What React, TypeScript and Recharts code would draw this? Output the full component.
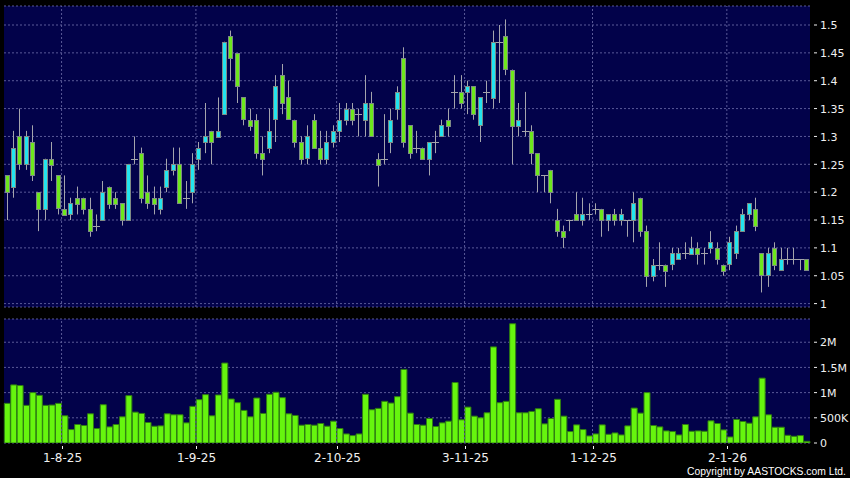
import React from 'react';
import { ComposedChart, BarChart, Bar, XAxis, YAxis, CartesianGrid, ReferenceLine } from 'recharts';

const dates = [
  '21-7-25','22-7-25','23-7-25','24-7-25','25-7-25','28-7-25','29-7-25','30-7-25','31-7-25',
  '1-8-25','4-8-25','5-8-25','6-8-25','7-8-25','8-8-25','11-8-25','12-8-25','13-8-25','14-8-25','15-8-25','18-8-25','19-8-25','20-8-25','21-8-25','22-8-25','25-8-25','26-8-25','27-8-25','28-8-25','29-8-25',
  '1-9-25','2-9-25','3-9-25','4-9-25','5-9-25','8-9-25','9-9-25','10-9-25','11-9-25','12-9-25','15-9-25','16-9-25','17-9-25','18-9-25','19-9-25','22-9-25','23-9-25','24-9-25','25-9-25','26-9-25','29-9-25','30-9-25',
  '2-10-25','3-10-25','6-10-25','8-10-25','9-10-25','10-10-25','13-10-25','14-10-25','15-10-25','16-10-25','17-10-25','20-10-25','21-10-25','22-10-25','23-10-25','24-10-25','27-10-25','28-10-25','30-10-25','31-10-25',
  '3-11-25','4-11-25','5-11-25','6-11-25','7-11-25','10-11-25','11-11-25','12-11-25','13-11-25','14-11-25','17-11-25','18-11-25','19-11-25','20-11-25','21-11-25','24-11-25','25-11-25','26-11-25','27-11-25','28-11-25',
  '1-12-25','2-12-25','3-12-25','4-12-25','5-12-25','8-12-25','9-12-25','10-12-25','11-12-25','12-12-25','15-12-25','16-12-25','17-12-25','18-12-25','19-12-25','22-12-25','23-12-25','24-12-25','29-12-25','30-12-25','31-12-25',
  '2-1-26','5-1-26','6-1-26','7-1-26','8-1-26','9-1-26','12-1-26','13-1-26','14-1-26','15-1-26','16-1-26','19-1-26','20-1-26'
];

const opens = [
  1.23,1.21,1.30,1.25,1.29,1.20,1.17,1.26,1.23,1.17,1.16,1.19,1.19,1.17,1.14,1.15,1.21,1.19,1.18,1.15,
  1.26,1.27,1.20,1.19,1.17,1.21,1.24,1.25,1.19,1.20,1.26,1.29,1.31,1.30,1.34,1.48,1.45,1.37,1.33,1.33,
  1.27,1.28,1.33,1.41,1.37,1.33,1.29,1.26,1.33,1.28,1.26,1.29,1.31,1.33,1.35,1.34,1.33,1.36,1.26,1.26,
  1.29,1.35,1.44,1.32,1.28,1.28,1.26,1.29,1.30,1.33,1.38,1.38,1.38,1.39,1.32,1.38,1.37,1.47,1.48,1.42,
  1.32,1.31,1.31,1.27,1.23,1.24,1.15,1.13,1.15,1.16,1.15,1.16,1.17,1.17,1.15,1.16,1.15,1.15,1.15,1.19,
  1.13,1.05,1.07,1.07,1.07,1.08,1.09,1.09,1.10,1.09,1.10,1.10,1.07,1.07,1.09,1.13,1.16,1.17,1.09,1.05,
  1.10,1.06,1.08,1.08,1.08,1.08
];
const highs = [
  1.23,1.31,1.35,1.31,1.32,1.20,1.26,1.29,1.23,1.23,1.19,1.21,1.19,1.19,1.16,1.22,1.21,1.20,1.18,1.25,
  1.30,1.28,1.23,1.21,1.21,1.26,1.28,1.28,1.22,1.27,1.29,1.36,1.31,1.37,1.47,1.49,1.45,1.37,1.35,1.34,
  1.30,1.35,1.41,1.43,1.40,1.33,1.30,1.32,1.34,1.31,1.31,1.32,1.36,1.36,1.36,1.35,1.41,1.38,1.27,1.34,
  1.35,1.39,1.46,1.32,1.31,1.28,1.29,1.31,1.33,1.35,1.41,1.41,1.40,1.39,1.37,1.40,1.49,1.50,1.51,1.42,
  1.36,1.38,1.32,1.27,1.23,1.24,1.17,1.14,1.15,1.20,1.19,1.18,1.18,1.17,1.16,1.17,1.17,1.15,1.20,1.19,
  1.14,1.08,1.11,1.07,1.10,1.10,1.11,1.12,1.11,1.10,1.13,1.11,1.07,1.12,1.14,1.17,1.18,1.19,1.09,1.10,
  1.11,1.10,1.10,1.10,1.08,1.08
];
const lows = [
  1.15,1.19,1.24,1.24,1.22,1.13,1.15,1.22,1.16,1.16,1.15,1.16,1.16,1.12,1.13,1.15,1.17,1.17,1.14,1.15,
  1.25,1.18,1.17,1.16,1.16,1.20,1.23,1.18,1.17,1.18,1.24,1.27,1.25,1.30,1.34,1.40,1.36,1.32,1.31,1.26,
  1.23,1.27,1.29,1.34,1.33,1.28,1.25,1.25,1.28,1.25,1.25,1.28,1.29,1.32,1.32,1.30,1.30,1.30,1.21,1.25,
  1.27,1.33,1.28,1.26,1.27,1.26,1.23,1.27,1.30,1.30,1.35,1.35,1.34,1.33,1.29,1.36,1.35,1.36,1.41,1.25,
  1.30,1.30,1.25,1.20,1.20,1.18,1.12,1.10,1.13,1.15,1.14,1.15,1.16,1.12,1.13,1.14,1.14,1.12,1.11,1.12,
  1.03,1.04,1.06,1.03,1.06,1.08,1.08,1.09,1.07,1.07,1.09,1.07,1.05,1.06,1.08,1.13,1.15,1.13,1.02,1.03,
  1.06,1.06,1.07,1.07,1.06,1.06
];
const closes = [
  1.20,1.28,1.25,1.30,1.23,1.17,1.26,1.25,1.17,1.16,1.18,1.18,1.17,1.13,1.14,1.20,1.18,1.18,1.15,1.25,
  1.26,1.19,1.18,1.18,1.19,1.24,1.25,1.18,1.19,1.25,1.28,1.30,1.29,1.31,1.47,1.44,1.39,1.33,1.32,1.27,
  1.26,1.31,1.39,1.36,1.33,1.29,1.26,1.30,1.28,1.26,1.29,1.31,1.33,1.35,1.33,1.34,1.36,1.30,1.25,1.26,
  1.33,1.38,1.29,1.27,1.28,1.26,1.29,1.29,1.32,1.32,1.38,1.36,1.39,1.34,1.37,1.38,1.47,1.47,1.42,1.32,
  1.33,1.31,1.27,1.23,1.23,1.20,1.13,1.12,1.15,1.15,1.16,1.16,1.17,1.15,1.16,1.15,1.16,1.15,1.18,1.13,
  1.05,1.07,1.07,1.06,1.09,1.09,1.09,1.10,1.09,1.09,1.11,1.08,1.06,1.11,1.13,1.16,1.18,1.14,1.05,1.09,
  1.07,1.08,1.08,1.08,1.08,1.06
];
// volume in thousands of shares
const volumesK = [
  787,1153,1140,747,1000,947,747,753,787,540,267,367,347,580,287,760,320,367,520,940,
  613,587,407,333,340,580,560,560,400,727,860,960,540,953,1587,873,800,647,520,893,
  587,967,1007,900,580,547,353,367,353,387,333,433,287,180,147,180,967,660,687,827,
  793,920,1460,593,367,353,487,327,400,433,1200,460,713,533,500,600,1907,800,827,2367,
  600,600,627,680,380,487,867,533,227,360,267,140,180,360,173,200,160,340,693,593,
  1000,347,320,240,227,160,367,233,240,233,440,387,260,120,467,427,393,520,1287,560,
  313,313,153,133,147,33
];

const monthStarts = ['1-8-25', '1-9-25', '2-10-25', '3-11-25', '1-12-25', '2-1-26'];
const priceTicks = [1, 1.05, 1.1, 1.15, 1.2, 1.25, 1.3, 1.35, 1.4, 1.45, 1.5];
const priceTickLabels = ['1', '1.05', '1.1', '1.15', '1.2', '1.25', '1.3', '1.35', '1.4', '1.45', '1.5'];
const volTicks = [0, 500, 1000, 1500, 2000];
const volTickLabels = ['0', '500K', '1M', '1.5M', '2M'];

const data = dates.map((d, i) => ({
  date: d,
  open: opens[i],
  high: highs[i],
  low: lows[i],
  close: closes[i],
  range: [lows[i], highs[i]],
  vol: volumesK[i],
}));

const BG = '#02024a';
const GRID = '#5a5a98';
const CYAN = '#22e4ef';
const GREEN = '#6de81c';
const VOL = '#66f50e';
const VOL_STROKE = '#2f7d12';
const WICK = '#a4a4ac';
const BODY_STROKE = '#7e8a86';
const TEXT = '#f0f0f0';
const FONT = 'DejaVu Sans, Verdana, sans-serif';
const HALF_BAND = 806 / 126 / 2;

const Candle = (props: any) => {
  const { x, y, width, height, payload } = props;
  if (x == null || y == null || !payload) return null;
  const top = Math.min(y, y + height);
  const h = Math.abs(height);
  const { open, close, high, low } = payload;
  const span = high - low;
  const py = (v: number) => (span > 0 ? top + ((high - v) / span) * h : top);
  const left = Math.round(x);
  const w = Math.max(2, Math.round(width));
  const cx = left + Math.floor(w / 2) + 0.5;
  const yo = py(open);
  const yc = py(close);
  const up = close > open;
  return (
    <g>
      <line x1={cx} x2={cx} y1={top} y2={top + h} stroke={WICK} strokeWidth={1} />
      {open === close ? (
        <line x1={left - 1} x2={left + w + 1} y1={Math.round(yo) + 0.5} y2={Math.round(yo) + 0.5} stroke={WICK} strokeWidth={1} />
      ) : (
        <rect
          x={left + 0.5}
          y={Math.round(Math.min(yo, yc)) + 0.5}
          width={w - 1}
          height={Math.max(1, Math.round(Math.abs(yc - yo)))}
          fill={up ? CYAN : GREEN}
          stroke={BODY_STROKE}
          strokeWidth={1}
        />
      )}
    </g>
  );
};

const YTick = (labels: string[], values: number[]) => (props: any) => {
  const { x, y, payload } = props;
  const idx = values.indexOf(payload.value);
  const label = idx >= 0 ? labels[idx] : String(payload.value);
  return (
    <g>
      <line x1={x + 4} x2={x + 7} y1={y} y2={y} stroke={TEXT} strokeWidth={1} />
      <text x={x + 10} y={y + 4.2} fill={TEXT} fontSize={11} fontFamily={FONT} textAnchor="start">
        {label}
      </text>
    </g>
  );
};

const XTick = (props: any) => {
  const { x, y, payload } = props;
  const off = payload && typeof payload.offset === 'number' && payload.offset > 0 ? payload.offset : HALF_BAND;
  const tx = Math.round(x - off) + 0.5;
  return (
    <g>
      <line x1={tx} x2={tx} y1={y + 3} y2={y + 6} stroke={TEXT} strokeWidth={1} />
      <text x={tx} y={y + 19} fill={TEXT} fontSize={12} fontFamily={FONT} textAnchor="middle">
        {payload.value}
      </text>
    </g>
  );
};

const PriceTick = YTick(priceTickLabels, priceTicks);
const VolTick = YTick(volTickLabels, volTicks);

export default function App() {
  return (
    <div style={{ position: 'absolute', left: 0, top: 0, width: 850, height: 478, background: '#000', overflow: 'hidden' }}>
      <div style={{ position: 'absolute', left: 0, top: 0 }}>
        <ComposedChart width={850} height={310} data={data} margin={{ top: 6, right: 0, bottom: 3, left: 4 }} barCategoryGap="8%">
          <CartesianGrid fill={BG} stroke={GRID} strokeDasharray="2 2" vertical={false} />
          <XAxis dataKey="date" hide />
          <YAxis
            orientation="right"
            width={40}
            type="number"
            domain={[0.9939, 1.5341]}
            allowDataOverflow
            ticks={priceTicks}
            interval={0}
            axisLine={false}
            tickLine={false}
            tickSize={0}
            tickMargin={0}
            tick={PriceTick}
          />
          {monthStarts.map((m) => (
            <ReferenceLine key={m} x={m} position="start" stroke={GRID} strokeDasharray="2 2" />
          ))}
          <Bar dataKey="range" shape={<Candle />} isAnimationActive={false} />
        </ComposedChart>
      </div>
      <div style={{ position: 'absolute', left: 0, top: 310 }}>
        <BarChart width={850} height={168} data={data} margin={{ top: 9, right: 0, bottom: 0, left: 4 }} barCategoryGap="5%">
          <CartesianGrid fill={BG} stroke={GRID} strokeDasharray="2 2" vertical={false} />
          <XAxis
            dataKey="date"
            height={35}
            ticks={monthStarts}
            interval={0}
            axisLine={false}
            tickLine={false}
            tickSize={0}
            tickMargin={0}
            tick={XTick}
          />
          <YAxis
            orientation="right"
            width={40}
            type="number"
            domain={[0, 2461]}
            allowDataOverflow
            ticks={volTicks}
            interval={0}
            axisLine={false}
            tickLine={false}
            tickSize={0}
            tickMargin={0}
            tick={VolTick}
          />
          {monthStarts.map((m) => (
            <ReferenceLine key={m} x={m} position="start" stroke={GRID} strokeDasharray="2 2" />
          ))}
          <Bar dataKey="vol" fill={VOL} stroke={VOL_STROKE} strokeWidth={1} isAnimationActive={false} />
        </BarChart>
      </div>
      <svg width={850} height={478} style={{ position: 'absolute', left: 0, top: 0, pointerEvents: 'none' }}>
        <text
          x={846}
          y={474.5}
          textAnchor="end"
          fill="#ffffff"
          fontSize={10.5}
          fontFamily="Liberation Sans, Arial, sans-serif"
          textLength={159}
          lengthAdjust="spacingAndGlyphs"
        >
          Copyright by AASTOCKS.com Ltd.
        </text>
      </svg>
    </div>
  );
}
